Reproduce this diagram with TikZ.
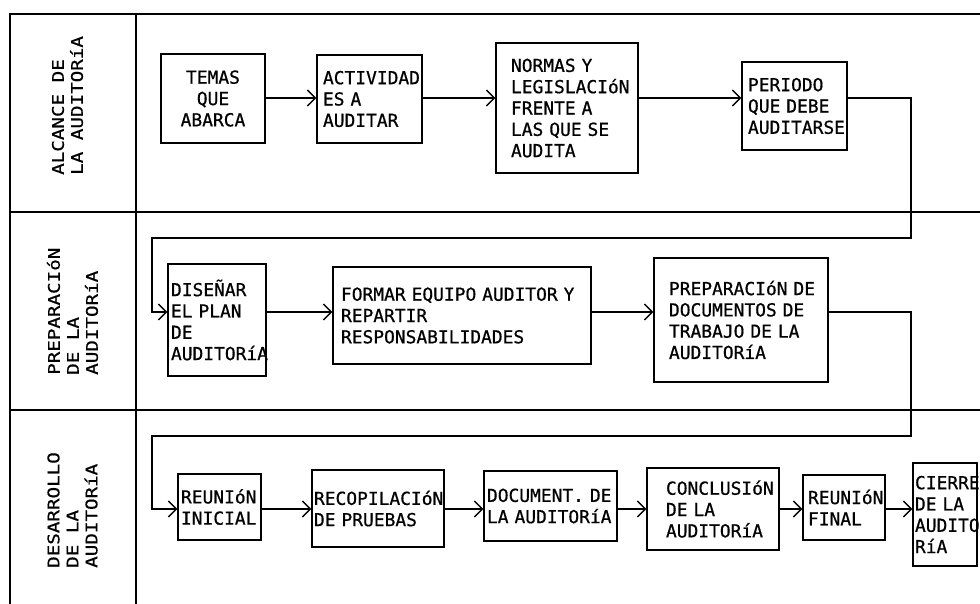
\documentclass[tikz,border=0pt]{standalone}
\usepackage{fontspec}
\usetikzlibrary{arrows.meta}
\newfontfamily\boxfont{DejaVu Sans Mono}[FakeBold=0.7]
\newfontfamily\hdrfont{DejaVu Sans Mono}[FakeStretch=1.2,FakeBold=0.7]
\begin{document}
\begin{tikzpicture}[x=1pt,y=-1pt,
  frame/.style={line width=1.8pt},
  box/.style={draw, line width=1.4pt, inner sep=0pt,
    font=\boxfont\fontsize{17.9}{21.3}\selectfont, align=left,
    execute at begin node={\hyphenpenalty=10000\exhyphenpenalty=10000}},
  conn/.style={line width=1.4pt, -{Straight Barb[length=8pt,width=16pt]}},
  hdr/.style={rotate=90, anchor=west, inner sep=0pt, align=left,
    font=\hdrfont\fontsize{16}{19}\selectfont}]
\useasboundingbox (0,0) rectangle (980,604);

% frame
\draw[frame] (980,14) -- (10,14) -- (10,604);
\draw[frame] (136,14) -- (136,604);
\draw[frame] (10,212) -- (980,212);
\draw[frame] (10,410) -- (980,410);

% lane headers
\node[hdr] (h1) at (67.5,175) {ALCANCE DE\\LA AUDITORíA};
\node[hdr] (h2) at (72.5,375) {PREPARACIóN\\DE LA\\AUDITORíA};
\node[hdr] (h3) at (72.5,568) {DESARROLLO\\DE LA\\AUDITORíA};

% lane 1
\node[box, align=center, minimum width=104pt, minimum height=89pt] (temas) at (213,98.5) {TEMAS\\QUE\\ABARCA};
\node[box, text width=93pt, minimum width=105pt, minimum height=88pt] (activ) at (369.5,99) {ACTIVIDAD\\ES~A\\AUDITAR};
\node[box, text width=112pt, minimum width=142pt, minimum height=130pt] (normas) at (567,108) {NORMAS~Y\\LEGISLACIóN\\FRENTE~A\\LAS~QUE~SE\\AUDITA};
\node[box, text width=93pt, minimum width=105pt, minimum height=88pt] (periodo) at (794.5,106) {PERIODO\\QUE~DEBE\\AUDITARSE};

% lane 2
\node[box, text width=92pt, minimum width=98pt, minimum height=112pt] (disenar) at (217,320) {DISEÑAR\\EL~PLAN\\DE\\AUDITORíA};
\node[box, text width=242pt, minimum width=258pt, minimum height=97pt] (formar) at (462,315.5) {FORMAR~EQUIPO~AUDITOR~Y\\REPARTIR\\RESPONSABILIDADES};
\node[box, text width=144pt, minimum width=174pt, minimum height=124pt] (prepdoc) at (741,320) {PREPARACIóN~DE\\DOCUMENTOS~DE\\TRABAJO~DE~LA\\AUDITORíA};

% lane 3
\node[box, text width=77pt, minimum width=83pt, minimum height=66pt] (reunini) at (219.5,507) {REUNIóN\\INICIAL};
\node[box, text width=128pt, minimum width=132pt, minimum height=77pt] (recop) at (378,508.5) {RECOPILACIóN\\DE~PRUEBAS};
\node[box, text width=127pt, minimum width=133pt, minimum height=70pt] (docum) at (550.5,506) {DOCUMENT.~DE\\LA~AUDITORíA};
\node[box, text width=94pt, minimum width=132pt, minimum height=82pt] (concl) at (713,509) {CONCLUSIóN\\DE~LA\\AUDITORíA};
\node[box, text width=72pt, minimum width=82pt, minimum height=65pt] (reunfin) at (844,507.5) {REUNIóN\\FINAL};
\node[box, text width=60pt, minimum width=64pt, minimum height=103pt] (cierre) at (945,514.5) {CIERRE\\DE~LA\\AUDITO\\RíA};

% rows and bends
\coordinate (row1) at (0,98);
\coordinate (row2) at (0,312);
\coordinate (row3) at (0,509);
\coordinate (k1) at (911,238);
\coordinate (k2) at (152,238);
\coordinate (k3) at (911,436);
\coordinate (k4) at (152,436);

% connectors
\draw[conn] (temas.east |- row1) -- (activ.west |- row1);
\draw[conn] (activ.east |- row1) -- (normas.west |- row1);
\draw[conn] (normas.east |- row1) -- (periodo.west |- row1);
\draw[conn] (periodo.east |- row1) -| (k1) -- (k2) |- (disenar.west |- row2);
\draw[conn] (disenar.east |- row2) -- (formar.west |- row2);
\draw[conn] (formar.east |- row2) -- (prepdoc.west |- row2);
\draw[conn] (prepdoc.east |- row2) -| (k3) -- (k4) |- (reunini.west |- row3);
\draw[conn] (reunini.east |- row3) -- (recop.west |- row3);
\draw[conn] (recop.east |- row3) -- (docum.west |- row3);
\draw[conn] (docum.east |- row3) -- (concl.west |- row3);
\draw[conn] (concl.east |- row3) -- (reunfin.west |- row3);
\draw[conn] (reunfin.east |- row3) -- (cierre.west |- row3);
\end{tikzpicture}
\end{document}
